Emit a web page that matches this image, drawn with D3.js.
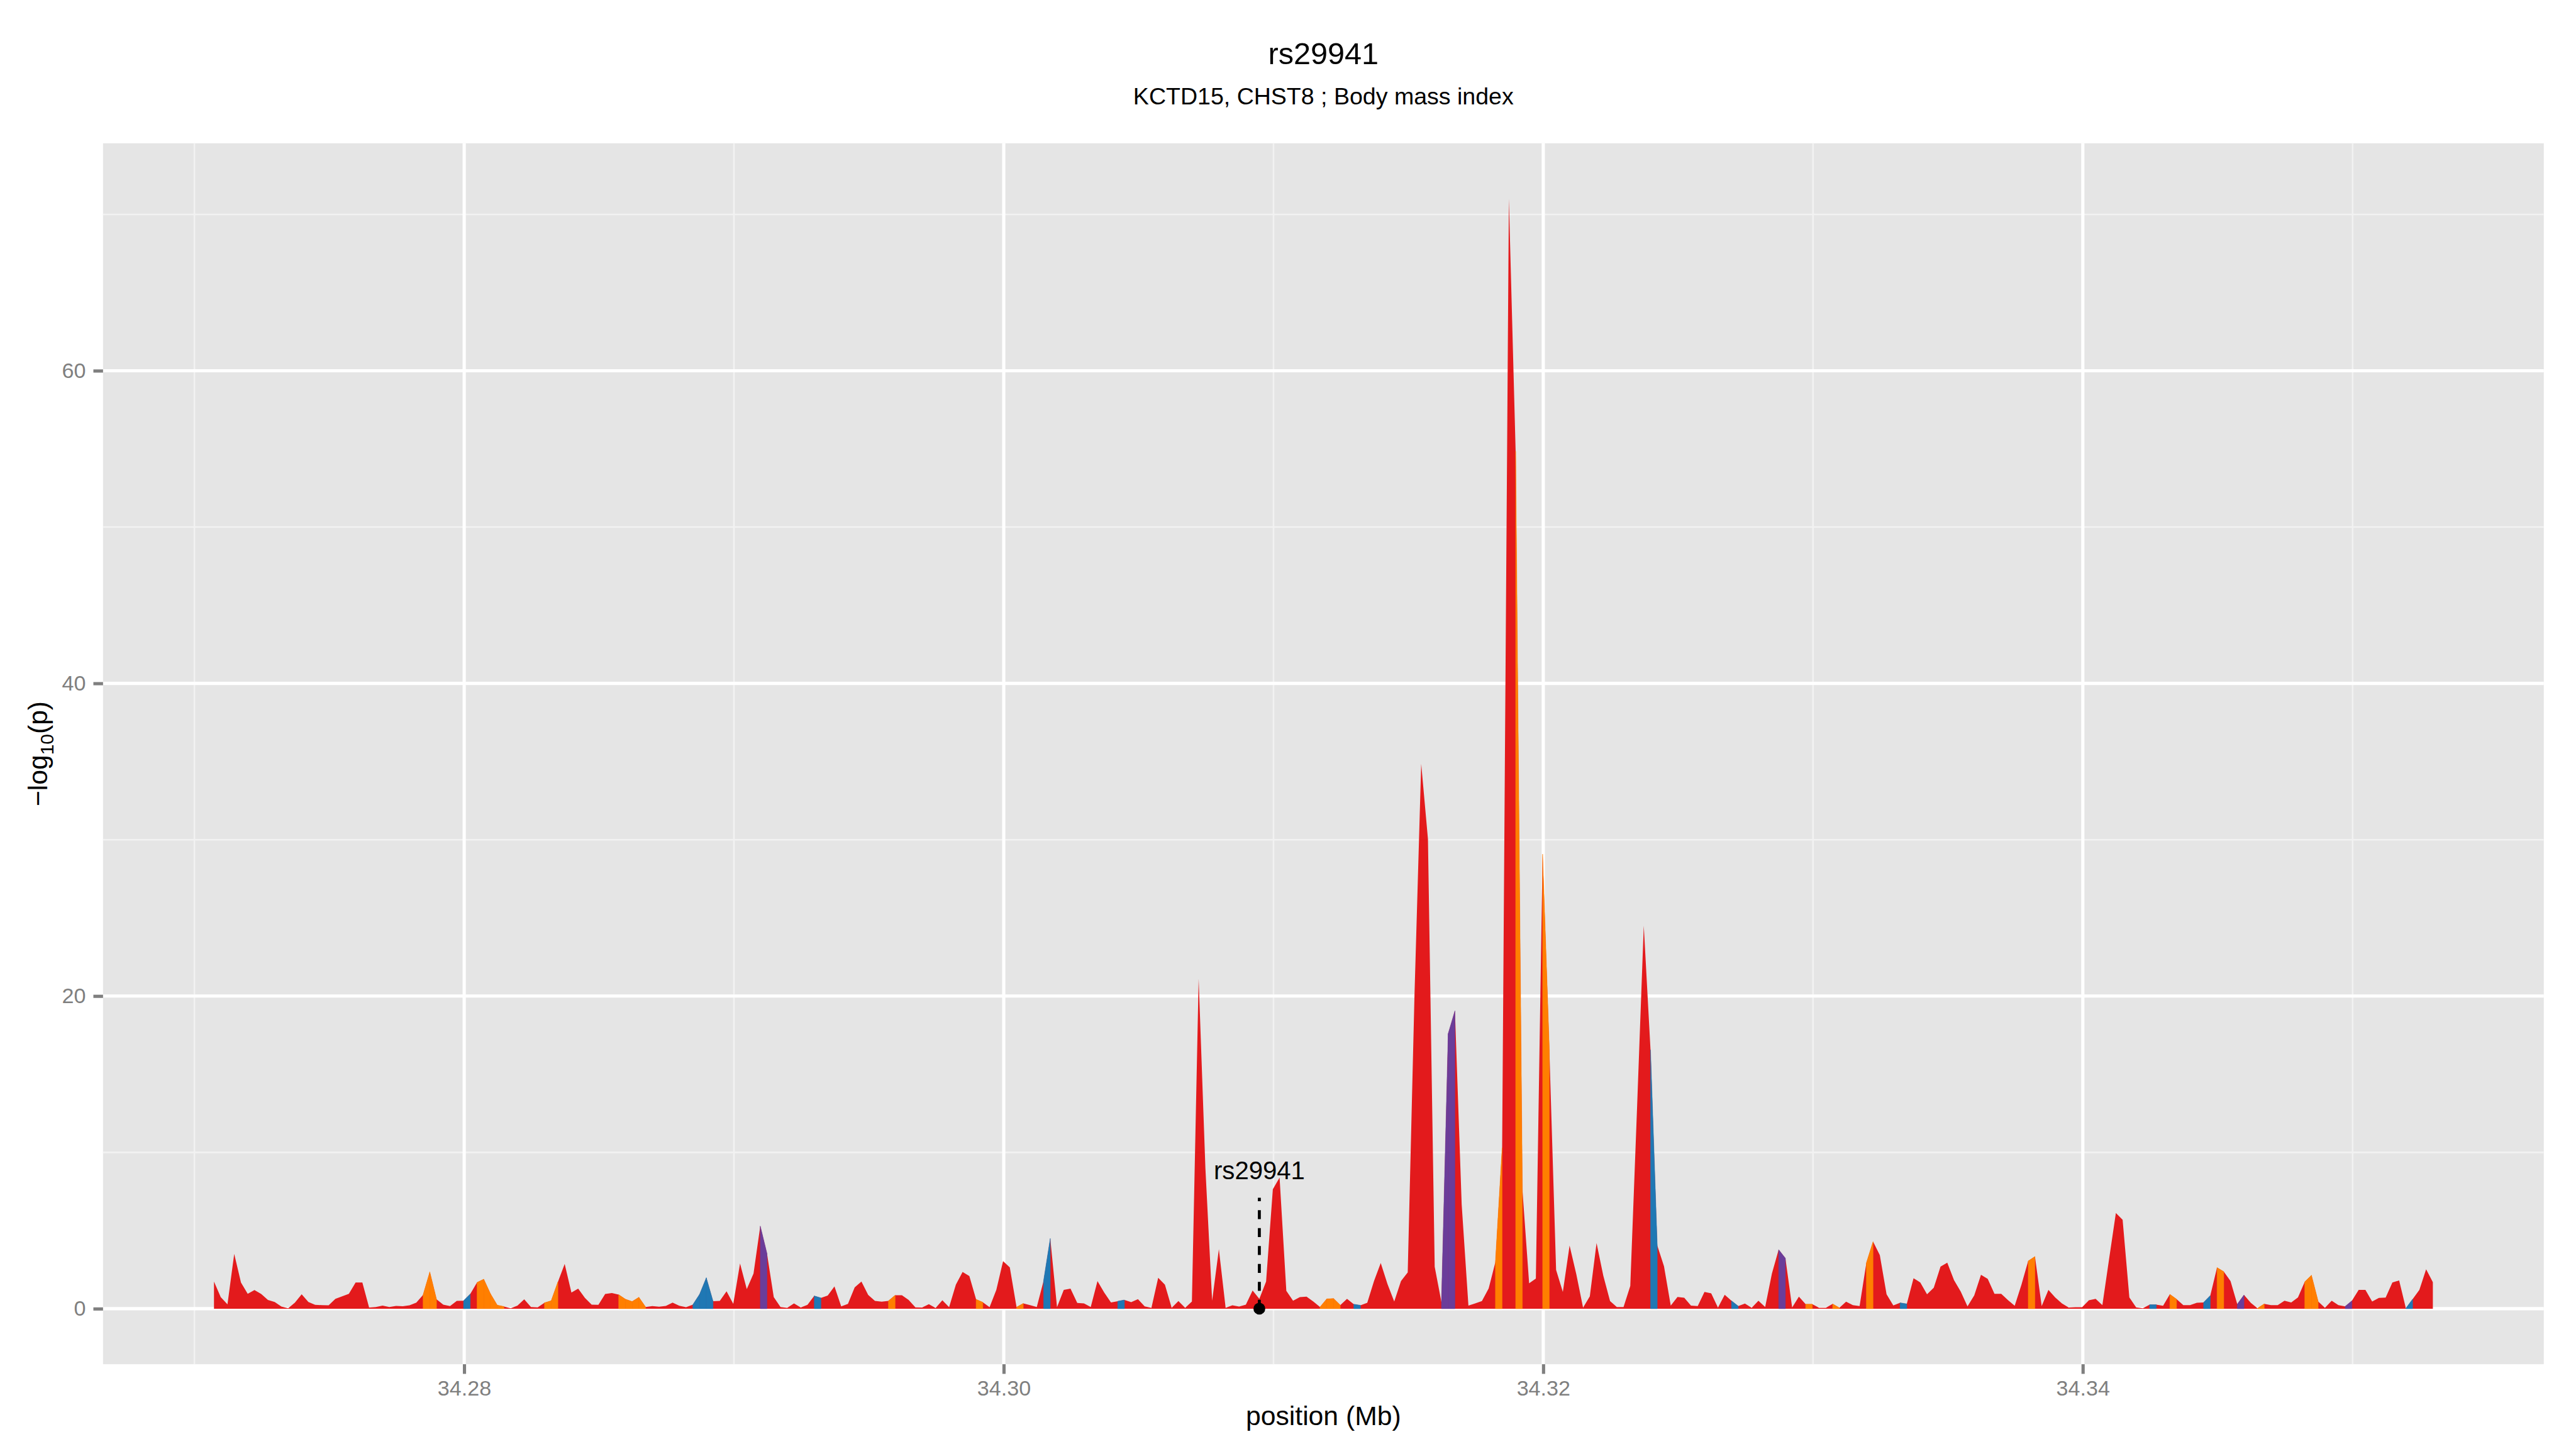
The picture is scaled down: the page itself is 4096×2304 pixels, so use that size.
<!DOCTYPE html>
<html>
<head>
<meta charset="utf-8">
<script src="https://cdn.jsdelivr.net/npm/d3@7"></script>
<style>
  body { margin: 0; background: #fff; }
</style>
</head>
<body>
<script>
// positions (Mb) of the SNPs along the region
var positions = [
  34.270725, 34.270975,
  34.271225, 34.271475, 34.271725, 34.271975, 34.272225, 34.272475, 34.272725, 34.272975,
  34.273225, 34.273475, 34.273725, 34.273975, 34.274225, 34.274475, 34.274725, 34.274975,
  34.275225, 34.275475, 34.275725, 34.275975, 34.276225, 34.276475, 34.276725, 34.276975,
  34.277225, 34.277475, 34.277725, 34.277975, 34.278225, 34.278475, 34.278725, 34.278975,
  34.279225, 34.279475, 34.279725, 34.279975, 34.280225, 34.280475, 34.280725, 34.280975,
  34.281225, 34.281475, 34.281725, 34.281975, 34.282225, 34.282475, 34.282725, 34.282975,
  34.283225, 34.283475, 34.283725, 34.283975, 34.284225, 34.284475, 34.284725, 34.284975,
  34.285225, 34.285475, 34.285725, 34.285975, 34.286225, 34.286475, 34.286725, 34.286975,
  34.287225, 34.287475, 34.287725, 34.287975, 34.288225, 34.288475, 34.288725, 34.288975,
  34.289225, 34.289475, 34.289725, 34.289975, 34.290225, 34.290475, 34.290725, 34.290975,
  34.291225, 34.291475, 34.291725, 34.291975, 34.292225, 34.292475, 34.292725, 34.292975,
  34.293225, 34.293475, 34.293725, 34.293975, 34.294225, 34.294475, 34.294725, 34.294975,
  34.295225, 34.295475, 34.295725, 34.295975, 34.296225, 34.296475, 34.296725, 34.296975,
  34.297225, 34.297475, 34.297725, 34.297975, 34.298225, 34.298475, 34.298725, 34.298975,
  34.299225, 34.299475, 34.299725, 34.299975, 34.300225, 34.300475, 34.300725, 34.300975,
  34.301225, 34.301475, 34.301725, 34.301975, 34.302225, 34.302475, 34.302725, 34.302975,
  34.303225, 34.303475, 34.303725, 34.303975, 34.304225, 34.304475, 34.304725, 34.304975,
  34.305225, 34.305475, 34.305725, 34.305975, 34.306225, 34.306475, 34.306725, 34.306975,
  34.307225, 34.307475, 34.307725, 34.307975, 34.308225, 34.308475, 34.308725, 34.308975,
  34.309225, 34.309475, 34.309725, 34.309975, 34.310225, 34.310475, 34.310725, 34.310975,
  34.311225, 34.311475, 34.311725, 34.311975, 34.312225, 34.312475, 34.312725, 34.312975,
  34.313225, 34.313475, 34.313725, 34.313975, 34.314225, 34.314475, 34.314725, 34.314975,
  34.315225, 34.315475, 34.315725, 34.315975, 34.316225, 34.316475, 34.316725, 34.316975,
  34.317225, 34.317475, 34.317725, 34.317975, 34.318225, 34.318475, 34.318725, 34.318975,
  34.319225, 34.319475, 34.319725, 34.319975, 34.320225, 34.320475, 34.320725, 34.320975,
  34.321225, 34.321475, 34.321725, 34.321975, 34.322225, 34.322475, 34.322725, 34.322975,
  34.323225, 34.323475, 34.323725, 34.323975, 34.324225, 34.324475, 34.324725, 34.324975,
  34.325225, 34.325475, 34.325725, 34.325975, 34.326225, 34.326475, 34.326725, 34.326975,
  34.327225, 34.327475, 34.327725, 34.327975, 34.328225, 34.328475, 34.328725, 34.328975,
  34.329225, 34.329475, 34.329725, 34.329975, 34.330225, 34.330475, 34.330725, 34.330975,
  34.331225, 34.331475, 34.331725, 34.331975, 34.332225, 34.332475, 34.332725, 34.332975,
  34.333225, 34.333475, 34.333725, 34.333975, 34.334225, 34.334475, 34.334725, 34.334975,
  34.335225, 34.335475, 34.335725, 34.335975, 34.336225, 34.336475, 34.336725, 34.336975,
  34.337225, 34.337475, 34.337725, 34.337975, 34.338225, 34.338475, 34.338725, 34.338975,
  34.339225, 34.339475, 34.339725, 34.339975, 34.340225, 34.340475, 34.340725, 34.340975,
  34.341225, 34.341475, 34.341725, 34.341975, 34.342225, 34.342475, 34.342725, 34.342975,
  34.343225, 34.343475, 34.343725, 34.343975, 34.344225, 34.344475, 34.344725, 34.344975,
  34.345225, 34.345475, 34.345725, 34.345975, 34.346225, 34.346475, 34.346725, 34.346975,
  34.347225, 34.347475, 34.347725, 34.347975, 34.348225, 34.348475, 34.348725, 34.348975,
  34.349225, 34.349475, 34.349725, 34.349975, 34.350225, 34.350475, 34.350725, 34.350975,
  34.351225, 34.351475, 34.351725, 34.351975, 34.352225, 34.352475, 34.352725, 34.352975
];

// -log10(p) at each position
var logp = [
  1.74, 0.74, 0.28, 3.51, 1.68, 0.95, 1.19, 0.94, 0.56, 0.43,
  0.14, 0.03, 0.39, 0.92, 0.43, 0.25, 0.23, 0.22, 0.63, 0.79,
  0.95, 1.68, 1.68, 0.08, 0.11, 0.20, 0.11, 0.18, 0.16, 0.22,
  0.39, 0.88, 2.35, 0.60, 0.26, 0.17, 0.50, 0.51, 0.94, 1.68,
  1.89, 0.95, 0.23, 0.14, 0.03, 0.20, 0.60, 0.11, 0.09, 0.38,
  0.51, 1.72, 2.86, 1.03, 1.28, 0.69, 0.26, 0.25, 0.94, 1.00,
  0.90, 0.61, 0.46, 0.73, 0.11, 0.17, 0.13, 0.18, 0.39, 0.19,
  0.10, 0.26, 0.92, 1.98, 0.48, 0.50, 1.11, 0.31, 2.89, 1.25,
  2.25, 5.29, 3.52, 0.74, 0.11, 0.06, 0.34, 0.08, 0.25, 0.82,
  0.69, 0.84, 1.43, 0.15, 0.31, 1.37, 1.74, 0.88, 0.50, 0.45,
  0.50, 0.86, 0.86, 0.56, 0.09, 0.08, 0.29, 0.05, 0.54, 0.10,
  1.54, 2.35, 2.09, 0.60, 0.41, 0.10, 1.20, 3.04, 2.64, 0.10,
  0.34, 0.23, 0.11, 1.77, 4.50, 0.10, 1.20, 1.28, 0.37, 0.34,
  0.11, 1.77, 1.03, 0.40, 0.48, 0.56, 0.42, 0.61, 0.15, 0.06,
  1.98, 1.54, 0.06, 0.49, 0.06, 0.46, 21.1, 9.0, 0.51, 3.81,
  0.06, 0.22, 0.14, 0.26, 1.16, 0.63, 1.74, 7.64, 8.39, 1.14,
  0.51, 0.74, 0.77, 0.46, 0.11, 0.63, 0.65, 0.23, 0.63, 0.29,
  0.22, 0.38, 1.77, 2.92, 1.58, 0.46, 1.77, 2.32, 20.0, 34.86,
  30.04, 2.68, 0.42, 17.6, 19.06, 6.68, 0.20, 0.34, 0.49, 1.29,
  2.98, 10.3, 71.0, 54.85, 7.65, 1.63, 1.93, 29.08, 16.56, 2.48,
  1.07, 4.04, 2.20, 0.07, 0.79, 4.20, 2.11, 0.49, 0.11, 0.11,
  1.46, 12.8, 24.5, 16.56, 4.05, 2.71, 0.20, 0.75, 0.70, 0.20,
  0.17, 1.07, 0.98, 0.07, 0.89, 0.51, 0.17, 0.33, 0.06, 0.51,
  0.11, 2.25, 3.78, 3.23, 0.08, 0.77, 0.29, 0.29, 0.06, 0.06,
  0.31, 0.06, 0.45, 0.23, 0.17, 2.92, 4.29, 3.43, 0.92, 0.21,
  0.38, 0.31, 1.95, 1.68, 0.92, 1.34, 2.69, 2.94, 1.83, 1.09,
  0.15, 0.85, 2.17, 1.91, 0.95, 0.95, 0.55, 0.19, 1.54, 3.05,
  3.34, 0.17, 1.20, 0.72, 0.34, 0.08, 0.10, 0.10, 0.54, 0.63,
  0.23, 3.20, 6.12, 5.69, 0.72, 0.09, 0.03, 0.26, 0.26, 0.19,
  0.92, 0.61, 0.23, 0.23, 0.38, 0.40, 0.84, 2.63, 2.37, 1.77,
  0.29, 0.88, 0.38, 0.03, 0.31, 0.23, 0.23, 0.51, 0.40, 0.72,
  1.72, 2.14, 0.46, 0.06, 0.51, 0.23, 0.15, 0.51, 1.20, 1.20,
  0.46, 0.69, 0.71, 1.68, 1.81, 0.03, 0.61, 1.20, 2.52, 1.70
];

// colour class of the stretch starting at each position (0 red, 1 orange, 2 blue, 3 purple)
var ldClass = [
  0,0,0,0,0,0,0,0,0,0,
  0,0,0,0,0,0,0,0,0,0,
  0,0,0,0,0,0,0,0,0,0,
  0,1,1,0,0,0,0,2,0,1,
  1,1,1,0,0,0,0,0,0,1,
  1,0,0,0,0,0,0,0,0,0,
  1,1,1,1,0,0,0,0,0,0,
  0,2,2,2,0,0,0,0,0,0,
  0,3,0,0,0,0,0,0,0,2,
  0,0,0,0,0,0,0,0,0,0,
  1,0,0,0,0,0,0,0,0,0,
  0,0,0,1,0,0,0,0,0,1,
  0,0,0,2,0,0,0,0,0,0,
  0,0,0,0,2,0,0,0,0,0,
  0,0,0,0,0,0,0,0,0,0,
  0,0,0,0,0,0,0,0,0,0,
  0,0,0,0,1,1,1,0,0,2,
  0,0,0,0,0,0,0,0,0,0,
  0,0,3,3,0,0,0,0,0,0,
  1,0,0,1,0,0,0,1,0,0,
  0,0,0,0,0,0,0,0,0,0,
  0,0,0,2,0,0,0,0,0,0,
  0,0,0,0,0,2,0,0,0,0,
  0,0,3,0,0,0,1,0,0,0,
  1,0,0,0,0,1,0,0,0,0,
  2,0,0,0,0,0,0,0,0,0,
  0,0,0,0,0,0,0,0,0,1,
  0,0,0,0,0,0,0,0,0,0,
  0,0,0,0,0,0,0,2,0,0,
  1,0,0,0,0,2,0,1,0,0,
  3,0,0,1,0,0,0,0,0,0,
  1,1,0,0,0,0,3,0,0,0,
  0,0,0,0,0,2,0,0,0,0
];
var ldColors = ["#E31A1C", "#FF7F00", "#1F78B4", "#6A3D9A"];

var xMajorTicks = [34.28, 34.30, 34.32, 34.34];
var xTickLabels = ["34.28", "34.30", "34.32", "34.34"];
var xMinorTicks = [34.27, 34.29, 34.31, 34.33, 34.35];
var yMajorTicks = [0, 20, 40, 60];
var yMinorTicks = [10, 30, 50, 70];

var snpName = "rs29941";
var snpPos = 34.309475;
var titleText = "rs29941";
var subtitleText = "KCTD15, CHST8 ; Body mass index";

var font = "'Liberation Sans', Arial, Helvetica, sans-serif";

// drawn in the reference's 4800x2700 units, scaled down by the viewBox
var W = 4800, H = 2700;
var margin = {top: 267, right: 60, bottom: 158, left: 192},
    width = W - margin.left - margin.right,
    height = H - margin.top - margin.bottom;

var svg = d3.select("body").append("svg")
    .attr("width", 4096)
    .attr("height", 2304)
    .attr("viewBox", "0 0 " + W + " " + H);

svg.append("rect").attr("width", W).attr("height", H).attr("fill", "#fff");

var g = svg.append("g").attr("transform", "translate(" + margin.left + "," + margin.top + ")");

// ggplot style 5% expansion
var xExt = d3.extent(positions), xPad = (xExt[1] - xExt[0]) * 0.05;
var x = d3.scaleLinear().domain([xExt[0] - xPad, xExt[1] + xPad]).range([0, width]);
var yMax = d3.max(logp), yPad = yMax * 0.05;
var y = d3.scaleLinear().domain([-yPad, yMax + yPad]).range([height, 0]);

g.append("rect").attr("width", width).attr("height", height).attr("fill", "#E5E5E5");

// minor grid
g.selectAll(".vminor").data(xMinorTicks).enter().append("line")
    .attr("x1", function(d) { return x(d); }).attr("x2", function(d) { return x(d); })
    .attr("y1", 0).attr("y2", height)
    .attr("stroke", "#F2F2F2").attr("stroke-width", 3);
g.selectAll(".hminor").data(yMinorTicks).enter().append("line")
    .attr("y1", function(d) { return y(d); }).attr("y2", function(d) { return y(d); })
    .attr("x1", 0).attr("x2", width)
    .attr("stroke", "#F2F2F2").attr("stroke-width", 3);
// major grid
g.selectAll(".vmajor").data(xMajorTicks).enter().append("line")
    .attr("x1", function(d) { return x(d); }).attr("x2", function(d) { return x(d); })
    .attr("y1", 0).attr("y2", height)
    .attr("stroke", "#fff").attr("stroke-width", 6);
g.selectAll(".hmajor").data(yMajorTicks).enter().append("line")
    .attr("y1", function(d) { return y(d); }).attr("y2", function(d) { return y(d); })
    .attr("x1", 0).attr("x2", width)
    .attr("stroke", "#fff").attr("stroke-width", 6);

// area: whole profile in red, then the coloured stretches on top
var pts = positions.map(function(p, i) { return {pos: p, v: logp[i], c: ldClass[i]}; });

var area = d3.area()
    .x(function(d) { return x(d.pos); })
    .y0(y(0))
    .y1(function(d) { return y(d.v); });

g.append("path")
    .datum(pts)
    .attr("d", area)
    .attr("fill", ldColors[0]);

var segs = [];
for (var i = 0; i < pts.length - 1; i++) {
  if (pts[i].c > 0) segs.push({c: pts[i].c, pair: [pts[i], pts[i + 1]]});
}
g.selectAll(".seg").data(segs).enter().append("path")
    .attr("class", "seg")
    .attr("d", function(d) { return area(d.pair); })
    .attr("fill", function(d) { return ldColors[d.c]; })
    .attr("stroke", function(d) { return ldColors[d.c]; })
    .attr("stroke-width", 0.6);

// snp marker
g.append("line")
    .attr("x1", x(snpPos)).attr("x2", x(snpPos))
    .attr("y1", y(0)).attr("y2", y(7.1))
    .attr("stroke", "#000").attr("stroke-width", 5.5)
    .attr("stroke-dasharray", "16.7,16.7");
g.append("circle")
    .attr("cx", x(snpPos)).attr("cy", y(0)).attr("r", 11)
    .attr("fill", "#000");
g.append("text")
    .attr("x", x(snpPos)).attr("y", y(8.28))
    .attr("text-anchor", "middle")
    .style("font-family", font).style("font-size", "47px")
    .attr("fill", "#000")
    .text(snpName);

// axes
var xAxis = d3.axisBottom(x).tickValues(xMajorTicks)
    .tickFormat(function(d, i) { return xTickLabels[i]; })
    .tickSize(18).tickPadding(12);
var gx = g.append("g").attr("transform", "translate(0," + height + ")").call(xAxis);
gx.select(".domain").remove();
gx.selectAll("line").attr("stroke", "#7F7F7F").attr("stroke-width", 6);
gx.selectAll("text").attr("fill", "#7F7F7F").style("font-family", font).style("font-size", "40px");

var yAxis = d3.axisLeft(y).tickValues(yMajorTicks).tickSize(18).tickPadding(14);
var gy = g.append("g").call(yAxis);
gy.select(".domain").remove();
gy.selectAll("line").attr("stroke", "#7F7F7F").attr("stroke-width", 6);
gy.selectAll("text").attr("fill", "#7F7F7F").style("font-family", font).style("font-size", "40px");

// axis titles
g.append("text")
    .attr("x", width / 2).attr("y", 2655 - margin.top)
    .attr("text-anchor", "middle")
    .style("font-family", font).style("font-size", "50px")
    .text("position (Mb)");

var yt = svg.append("text")
    .attr("transform", "translate(88," + (margin.top + height / 2) + ") rotate(-90)")
    .attr("text-anchor", "middle")
    .style("font-family", font).style("font-size", "50px");
yt.append("tspan").text("\u2212log");
yt.append("tspan").attr("dy", 12).style("font-size", "35px").text("10");
yt.append("tspan").attr("dy", -12).text("(p)");

// titles
svg.append("text")
    .attr("x", margin.left + width / 2).attr("y", 119)
    .attr("text-anchor", "middle")
    .style("font-family", font).style("font-size", "57px")
    .text(titleText);
svg.append("text")
    .attr("x", margin.left + width / 2).attr("y", 195)
    .attr("text-anchor", "middle")
    .style("font-family", font).style("font-size", "44px")
    .text(subtitleText);
</script>
</body>
</html>
